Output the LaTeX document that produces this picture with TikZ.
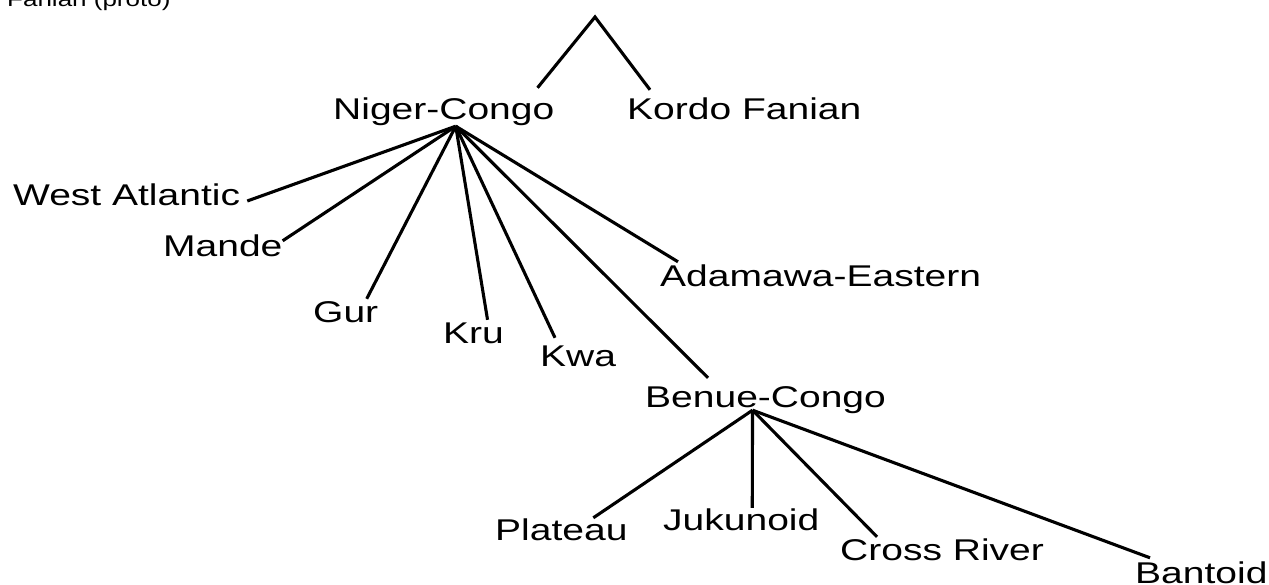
\documentclass[tikz,border=0pt]{standalone}
\usepackage{fontspec}
\newfontfamily\labfont{Liberation Sans}[FakeStretch=1.3]
\usepackage{tikz}
\usetikzlibrary{calc}
\tikzset{lab/.style={font=\labfont\fontsize{30}{36}\selectfont,inner sep=0pt,
			text height=22pt,text depth=6pt,anchor=base west}}
\tikzset{branch/.style={line width=3.1pt,black}}

\begin{document}
\begin{tikzpicture}[x=1pt,y=-1pt]
				\useasboundingbox (0,0) rectangle (1269,585);
				\node[anchor=base west,inner sep=0pt,font=\labfont\fontsize{20}{24}\selectfont] (proto) at (7,7) {Fanian (proto)};
				\coordinate (root) at (595,17);
				\node[lab] (nc) at (333,120) {Niger-Congo};
				\node[lab] (kf) at (627,120) {Kordo Fanian};
				\node[lab] (wa) at (13,206) {West Atlantic};
				\node[lab] (mande) at (163,257) {Mande};
				\node[lab] (gur) at (313,323) {Gur};
				\node[lab] (kru) at (443,343) {Kru};
				\node[lab] (kwa) at (540,366) {Kwa};
				\node[lab] (ae) at (660,287) {Adamawa-Eastern};
				\node[lab] (bc) at (645,407) {Benue-Congo};
				\node[lab] (plateau) at (495,540) {Plateau};
				\node[lab] (juku) at (663,530) {Jukunoid};
				\node[lab] (cross) at (840,560) {Cross River};
				\node[lab] (bantoid) at (1135,583) {Bantoid};
				\coordinate (ncfan) at ([xshift=12pt]nc.south);
				\coordinate (bcfan) at ([xshift=-13pt,yshift=3pt]bc.south);
				\draw[branch] ([xshift=-17pt,yshift=10pt]nc.north east) -- (root) -- ([xshift=23pt,yshift=8pt]kf.north west);
				\draw[branch] (ncfan) -- ([xshift=7pt,yshift=-3pt]wa.east);
				\draw[branch] (ncfan) -- ([yshift=-6pt]mande.north east);
				\draw[branch] (ncfan) -- ([xshift=21pt,yshift=2pt]gur.north);
				\draw[branch] (ncfan) -- ([xshift=14pt,yshift=1pt]kru.north);
				\draw[branch] (ncfan) -- ([xshift=15pt,yshift=6pt]kwa.north west);
				\draw[branch] (ncfan) -- ([xshift=18pt,yshift=3pt]ae.north west);
				\draw[branch] (ncfan) -- ([xshift=63pt,yshift=7pt]bc.north west);
				\draw[branch] (bcfan) -- ([xshift=32pt]plateau.north);
				\draw[branch] (bcfan) -- ([xshift=11pt]juku.north);
				\draw[branch] (bcfan) -- ([xshift=37pt,yshift=1pt]cross.north west);
				\draw[branch] (bcfan) -- ([xshift=15pt,yshift=3pt]bantoid.north west);
			\end{tikzpicture}
\end{document}
